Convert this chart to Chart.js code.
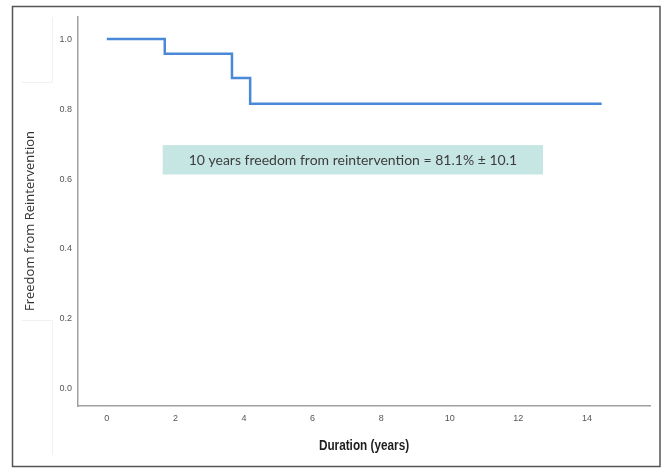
<!DOCTYPE html>
<html>
<head>
<meta charset="utf-8">
<script src="https://cdn.jsdelivr.net/npm/chart.js@4.4.1/dist/chart.umd.min.js"></script>
<style>
  html, body { margin: 0; padding: 0; background: #ffffff; }
  #wrap { position: relative; width: 662px; height: 468px; }
</style>
</head>
<body>
<div id="wrap"><canvas id="c" width="662" height="468"></canvas></div>
<script>
// Kaplan-Meier step data
const timesYears = [0, 1.69, 3.65, 4.18, 14.43];
const freedom = [1.0, 0.958, 0.889, 0.815, 0.815];
const xTicks = [0, 2, 4, 6, 8, 10, 12, 14];
const yTicks = [0.0, 0.2, 0.4, 0.6, 0.8, 1.0];
const xTitle = 'Duration (years)';
const yTitle = 'Freedom from Reintervention';
const noteText = '10 years freedom from reintervention = 81.1% \u00B1 10.1';
const noteBox = { x0: 1.63, x1: 12.72, y0: 0.613, y1: 0.697 };

const points = timesYears.map((t, i) => ({ x: t, y: freedom[i] }));

const decor = {
  id: 'decor',
  beforeDraw(chart) {
    const ctx = chart.ctx;
    ctx.save();
    ctx.fillStyle = '#ffffff';
    ctx.fillRect(0, 0, chart.width, chart.height);
    // faint artifact lines
    ctx.strokeStyle = '#eef2f2';
    ctx.lineWidth = 1;
    ctx.beginPath();
    ctx.moveTo(52.5, 17); ctx.lineTo(52.5, 82.5); ctx.lineTo(22, 82.5);
    ctx.moveTo(22, 320.5); ctx.lineTo(52.5, 320.5); ctx.lineTo(52.5, 455);
    ctx.stroke();
    // outer frame
    ctx.strokeStyle = '#555555';
    ctx.lineWidth = 1.5;
    ctx.strokeRect(12.5, 6.5, 647.5, 460);
    ctx.restore();
  },
  beforeDatasetsDraw(chart) {
    const ctx = chart.ctx;
    const xs = chart.scales.x, ys = chart.scales.y;
    const l = xs.getPixelForValue(noteBox.x0), r = xs.getPixelForValue(noteBox.x1);
    const t = ys.getPixelForValue(noteBox.y1), b = ys.getPixelForValue(noteBox.y0);
    ctx.save();
    ctx.fillStyle = '#c6e6e4';
    ctx.fillRect(l, t, r - l, b - t);
    ctx.fillStyle = '#3c3c3c';
    ctx.font = '14px Lato';
    ctx.textAlign = 'center';
    ctx.textBaseline = 'middle';
    ctx.fillText(noteText, (l + r) / 2, (t + b) / 2 + 1);
    ctx.restore();
  },
  afterDraw(chart) {
    const ctx = chart.ctx;
    const xs = chart.scales.x;
    ctx.save();
    ctx.fillStyle = '#333333';
    ctx.font = '13px "Open Sans"';
    ctx.textAlign = 'center';
    ctx.textBaseline = 'middle';
    ctx.translate(30, 221);
    ctx.rotate(-Math.PI / 2);
    ctx.fillText(yTitle, 0, 0);
    ctx.restore();
    // x-axis title, condensed
    ctx.save();
    ctx.fillStyle = '#1e1e1e';
    ctx.font = 'bold 14px "Liberation Sans"';
    ctx.textAlign = 'center';
    ctx.textBaseline = 'middle';
    ctx.translate((xs.left + xs.right) / 2, 446);
    ctx.scale(0.84, 1);
    ctx.fillText(xTitle, 0, 0);
    ctx.restore();
  }
};

new Chart(document.getElementById('c'), {
  type: 'line',
  data: {
    datasets: [{
      data: points,
      stepped: 'before',
      borderColor: '#4a88d8',
      borderWidth: 2.5,
      pointRadius: 0,
      fill: false,
      tension: 0
    }]
  },
  options: {
    responsive: false,
    animation: false,
    devicePixelRatio: 1,
    layout: { padding: { left: 0, right: 12, top: 17, bottom: 0 } },
    plugins: { legend: { display: false }, tooltip: { enabled: false } },
    scales: {
      x: {
        type: 'linear',
        min: -0.84,
        max: 15.84,
        afterBuildTicks: s => { s.ticks = xTicks.map(v => ({ value: v })); },
        afterFit: s => { s.height = 62; },
        grid: { display: true, drawOnChartArea: false, drawTicks: false },
        border: { display: true, color: '#a0a0a0', width: 1.5 },
        ticks: {
          padding: 7,
          maxRotation: 0,
          color: '#555555',
          font: { family: '"Liberation Sans"', size: 9 },
          callback: v => String(v)
        },
        title: { display: false }
      },
      y: {
        type: 'linear',
        min: -0.0486,
        max: 1.063,
        afterBuildTicks: s => { s.ticks = yTicks.map(v => ({ value: v })); },
        afterFit: s => { s.width = 78; },
        grid: { display: true, drawOnChartArea: false, drawTicks: false },
        border: { display: true, color: '#a0a0a0', width: 1.5 },
        ticks: {
          padding: 6,
          color: '#555555',
          font: { family: '"Liberation Sans"', size: 9 },
          callback: v => Number(v).toFixed(1)
        }
      }
    }
  },
  plugins: [decor]
});
</script>
</body>
</html>
